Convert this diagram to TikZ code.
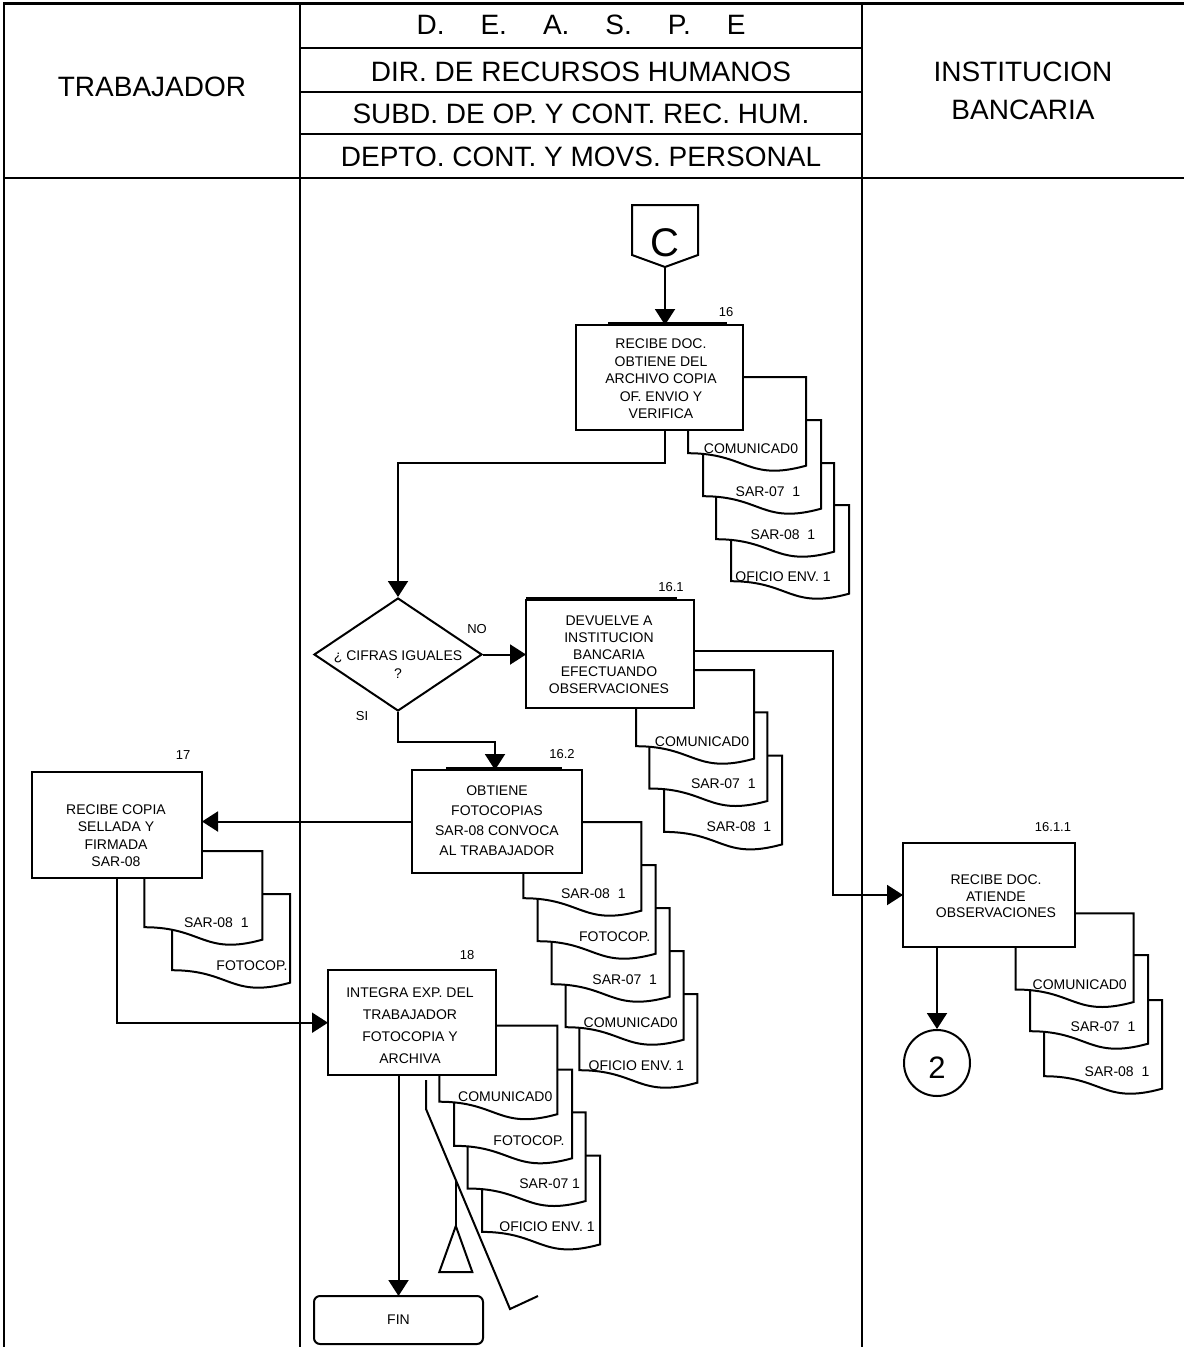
\documentclass[tikz,border=0pt]{standalone}
\usepackage{fontspec}
\setmainfont{Liberation Sans}
\usetikzlibrary{arrows.meta,shapes.geometric,calc}
\newcommand\mydoc[5]{% #1 name, #2 x, #3 y (top-left), #4 text x offset, #5 text
  \begin{scope}[shift={(#2,#3)}]
    \draw[docsh] (0,0) -- (118,0) -- (118,88.7) .. controls (59,105) and (59,76.2) .. (0,76.2) -- cycle;
    \node[dtxt] (#1) at (#4,71) {#5};
  \end{scope}}
\begin{document}
\frenchspacing
\begin{tikzpicture}[x=1pt,y=-1pt,
  frame/.style={line width=2.2pt},
  box/.style={draw,line width=2pt,fill=white,inner sep=0pt,outer sep=0pt,rectangle},
  btxt/.style={align=center,inner sep=0pt,font=\fontsize{14}{17.5}\selectfont},
  num/.style={inner sep=0pt,font=\fontsize{13}{15}\selectfont},
  htxt/.style={inner sep=0pt,text height=20pt,text depth=0pt,font=\fontsize{28}{34}\selectfont},
  dtxt/.style={inner sep=0pt,text height=10pt,text depth=0pt,font=\fontsize{14}{17}\selectfont},
  arr/.style={line width=2pt,-{Triangle[width=20pt,length=16pt]}},
  con/.style={line width=2pt},
  bar/.style={line width=4pt},
  docsh/.style={draw,line width=2pt,fill=white},
]
\useasboundingbox (0,0) rectangle (1184,1347);
% ---------------- frame and header ----------------
\draw[frame] (4,1347) -- (4,3.5) -- (1184,3.5);
\draw[frame] (300,3.5) -- (300,1347);
\draw[frame] (862,3.5) -- (862,1347);
\draw[frame] (4,178) -- (1184,178);
\draw[frame] (300,48) -- (862,48);
\draw[frame] (300,92) -- (862,92);
\draw[frame] (300,134) -- (862,134);
\node[htxt] (hT) at (152,86.5) {TRABAJADOR};
\node[htxt] (hD) at (581,24.5) {D.\hspace{36pt}E.\hspace{36pt}A.\hspace{36pt}S.\hspace{36pt}P.\hspace{36pt}E};
\node[htxt] (hR) at (581,71) {DIR. DE RECURSOS HUMANOS};
\node[htxt] (hS) at (581,113) {SUBD. DE OP. Y CONT. REC. HUM.};
\node[htxt] (hP) at (581,156.5) {DEPTO. CONT. Y MOVS. PERSONAL};
\node[htxt] (hI1) at (1023,71.5) {INSTITUCION};
\node[htxt] (hI2) at (1023,109.5) {BANCARIA};
% ---------------- off-page connector C ----------------
\draw[con,fill=white] (632,205) -- (698,205) -- (698,255) -- (665,267) -- (632,255) -- cycle;
\node[inner sep=0pt,text height=29pt,text depth=0pt,font=\fontsize{40}{40}\selectfont] (cC) at (665,241.5) {C};
\coordinate (cCtip) at (665,267);
% ---------------- step 16 ----------------
\mydoc{d16d}{731}{505}{52}{OFICIO ENV. 1}
\mydoc{d16c}{716}{463}{67}{SAR-08~~1}
\mydoc{d16b}{703}{420}{65}{SAR-07~~1}
\mydoc{d16a}{688}{377}{63}{COMUNICAD0}
\node[box,minimum width=167pt,minimum height=105pt] (b16) at (659.5,377.5) {};
\node[btxt] (t16) at (661,379) {RECIBE DOC.\\OBTIENE DEL\\ARCHIVO COPIA\\OF. ENVIO Y\\VERIFICA};
\draw[bar] (608,323.5) -- (727,323.5);
\node[num] (n16) at (726,312) {16};
% ---------------- decision ----------------
\node[draw,diamond,line width=2pt,minimum width=168pt,minimum height=113pt,inner sep=0pt,fill=white] (dia) at (398,654.5) {};
\node[align=center,inner sep=0pt,font=\fontsize{14}{18}\selectfont] (tdia) at (398,665) {¿ CIFRAS IGUALES\\?};
\node[num] (nNO) at (477,629) {NO};
\node[num] (nSI) at (362,716) {SI};
% ---------------- step 16.1 ----------------
\mydoc{d161c}{664}{755.7}{75}{SAR-08~~1}
\mydoc{d161b}{649.3}{712.3}{74}{SAR-07~~1}
\mydoc{d161a}{636}{670}{66}{COMUNICAD0}
\node[box,minimum width=168pt,minimum height=108pt] (b161) at (610,654) {};
\node[btxt,font=\fontsize{14}{17.1}\selectfont] (t161) at (609,655) {DEVUELVE A\\INSTITUCION\\BANCARIA\\EFECTUANDO\\OBSERVACIONES};
\draw[bar] (526,598.5) -- (677,598.5);
\node[num] (n161) at (671,587) {16.1};
% ---------------- step 16.2 ----------------
\mydoc{d162e}{579.3}{994}{57}{OFICIO ENV. 1}
\mydoc{d162d}{565.7}{951}{65}{COMUNICAD0}
\mydoc{d162c}{551.7}{908}{73}{SAR-07~~1}
\mydoc{d162b}{537.7}{865}{77}{FOTOCOP.}
\mydoc{d162a}{523.3}{822}{70}{SAR-08~~1}
\node[box,minimum width=170pt,minimum height=103pt] (b162) at (497,821.5) {};
\node[btxt,font=\fontsize{14}{20}\selectfont] (t162) at (497,821) {OBTIENE\\FOTOCOPIAS\\SAR-08 CONVOCA\\AL TRABAJADOR};
\draw[bar] (446,768.5) -- (562,768.5);
\node[num] (n162) at (562,754) {16.2};
% ---------------- step 17 ----------------
\mydoc{d17b}{172}{894}{80}{FOTOCOP.}
\mydoc{d17a}{144.3}{851}{72}{SAR-08~~1}
\node[box,minimum width=170pt,minimum height=106pt] (b17) at (117,825) {};
\node[btxt] (t17) at (116,835.5) {RECIBE COPIA\\SELLADA Y\\FIRMADA\\SAR-08};
\node[num] (n17) at (183,755) {17};
% ---------------- step 18 ----------------
\mydoc{d18d}{482}{1155.7}{65}{OFICIO ENV. 1}
\mydoc{d18c}{467.7}{1112.3}{82}{SAR-07 1}
\mydoc{d18b}{454}{1069.6}{75}{FOTOCOP.}
\mydoc{d18a}{439.3}{1025.5}{66}{COMUNICAD0}
\node[box,minimum width=168pt,minimum height=105.5pt] (b18) at (412,1022.7) {};
\node[btxt,font=\fontsize{14}{22}\selectfont] (t18) at (410,1026) {INTEGRA EXP. DEL\\TRABAJADOR\\FOTOCOPIA Y\\ARCHIVA};
\node[num] (n18) at (467,955) {18};
% ---------------- step 16.1.1 ----------------
\mydoc{d1611c}{1044}{1000}{73}{SAR-08~~1}
\mydoc{d1611b}{1030}{955}{73}{SAR-07~~1}
\mydoc{d1611a}{1015.7}{913.3}{64}{COMUNICAD0}
\node[box,minimum width=172pt,minimum height=104pt] (b1611) at (989,895) {};
\node[btxt,font=\fontsize{14}{16.5}\selectfont] (t1611) at (996,896.5) {RECIBE DOC.\\ATIENDE\\OBSERVACIONES};
\node[num] (n1611) at (1053,827) {16.1.1};
% ---------------- terminals ----------------
\node[draw,circle,line width=2pt,minimum size=66pt,inner sep=0pt] (c2) at (937,1063) {};
\node[inner sep=0pt,text height=22pt,text depth=0pt,font=\fontsize{31}{31}\selectfont] (t2) at (937,1067) {2};
\node[box,rounded corners=6pt,minimum width=169pt,minimum height=48pt,font=\fontsize{14}{17}\selectfont] (fin) at (398.5,1320) {FIN};
% ---------------- extract symbol ----------------
\coordinate (e1) at (426,1080);
\coordinate (e2) at (426,1109);
\coordinate (e3) at (510,1309);
\coordinate (e4) at (538,1296);
\draw[con] (e1) -- (e2) -- (e3) -- (e4);
\coordinate (e5) at ($(e2)!0.355!(e3)$);
\draw[con] (e5) -- ++(0,46) coordinate (apex);
\draw[con] (apex) -- ++(-16.5,46) -- ++(33,0) -- cycle;
% ---------------- connectors ----------------
\coordinate (j1) at (398,463);
\coordinate (j2) at (833,651);
\coordinate (j3) at (495,742);
\draw[arr] (cCtip) -- (cCtip |- b16.north);
\draw[arr] (cCtip |- b16.south) |- (j1) -- (dia.north);
\draw[arr] (dia.east) -- (dia.east -| b161.west);
\draw[arr] (b161.east |- j2) -- (j2) |- (b1611.west);
\draw[arr] (dia.south) |- (j3) -- (j3 |- b162.north);
\draw[arr] (b162.west) -- (b162.west -| b17.east);
\draw[arr] (b17.south) |- (b18.west);
\draw[arr] (b18.south -| fin.north) -- (fin.north);
\draw[arr] (b1611.south -| c2.north) -- (c2.north);
\end{tikzpicture}
\end{document}
